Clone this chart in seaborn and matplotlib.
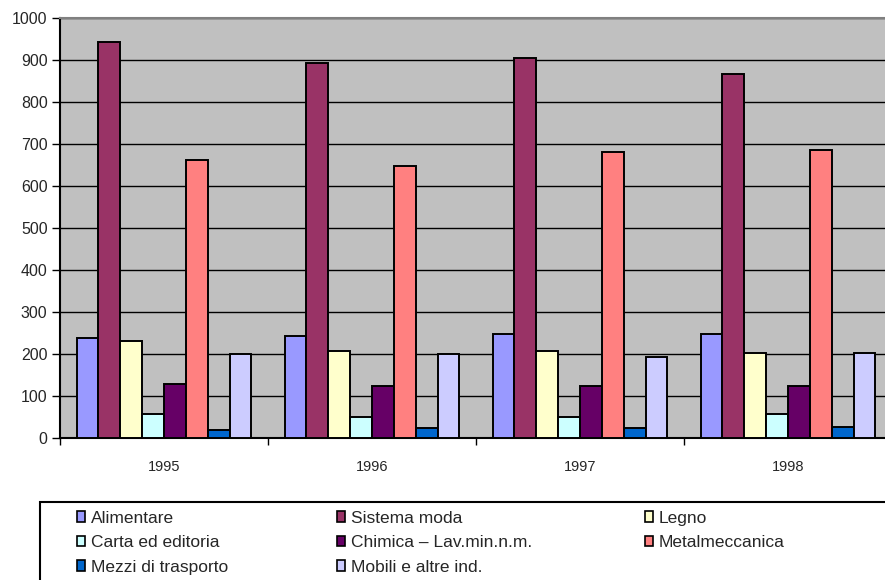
import matplotlib
matplotlib.use("Agg")
import matplotlib.pyplot as plt
import matplotlib.patches as mpatches
import seaborn as sns
import pandas as pd

# values
anni = ["1995", "1996", "1997", "1998"]
settori = ["Alimentare", "Sistema moda", "Legno", "Carta ed editoria",
           "Chimica \u2013 Lav.min.n.m.", "Metalmeccanica",
           "Mezzi di trasporto", "Mobili e altre ind."]
alimentare = [237, 242, 247, 247]
sistema_moda = [942, 894, 905, 866]
legno = [232, 208, 208, 203]
carta = [56, 51, 51, 56]
chimica = [128, 123, 123, 123]
metalmeccanica = [661, 648, 681, 686]
mezzi = [18, 23, 23, 27]
mobili = [199, 199, 194, 203]
colori = ["#9999FF", "#993366", "#FFFFCC", "#CCFFFF",
          "#660066", "#FF8080", "#0066CC", "#CCCCFF"]

serie = [alimentare, sistema_moda, legno, carta, chimica,
         metalmeccanica, mezzi, mobili]
righe = []
for nome, valori in zip(settori, serie):
    for anno, v in zip(anni, valori):
        righe.append({"anno": anno, "settore": nome, "valore": v})
df = pd.DataFrame(righe)

sns.set_theme(style="white")
plt.rcParams["font.family"] = ["Liberation Sans", "DejaVu Sans"]

fig = plt.figure(figsize=(8.85, 5.8), dpi=100)
# axes run past the right edge, as in the cropped reference
ax = fig.add_axes([60 / 885, 1 - 438 / 580, 832 / 885, 420 / 580])
ax.set_facecolor("#C0C0C0")

sns.barplot(data=df, x="anno", y="valore", hue="settore",
            hue_order=settori, palette=colori, saturation=1,
            width=0.84, gap=0, edgecolor="black", linewidth=1.4,
            ax=ax, legend=False, zorder=3)

ax.set_ylim(0, 1000)
ax.set_yticks(range(0, 1001, 100))
ax.set_xlim(-0.5, 3.5)
ax.yaxis.grid(True, color="black", linewidth=1, zorder=0)
ax.set_axisbelow(True)
ax.set_xlabel("")
ax.set_ylabel("")

ax.tick_params(axis="y", direction="out", length=6, width=1,
               color="black", labelsize=11.5, pad=3, left=True)
ax.tick_params(axis="x", which="major", length=0, labelsize=10.5, pad=16)
ax.set_xticks([-0.5, 0.5, 1.5, 2.5, 3.5], minor=True)
ax.tick_params(axis="x", which="minor", direction="out", length=5,
               width=1, color="black", bottom=True)

for s in ["left", "bottom"]:
    ax.spines[s].set_color("black")
    ax.spines[s].set_linewidth(1.5)
ax.spines["top"].set_color("#808080")
ax.spines["top"].set_linewidth(1.5)
ax.spines["right"].set_visible(False)

# legend box, also cut by the edges of the picture
box = mpatches.Rectangle((40 / 885, -0.1), 0.98, 1 - 502 / 580 + 0.1,
                         transform=fig.transFigure, facecolor="white",
                         edgecolor="black", linewidth=1.5)
fig.patches.append(box)

handles = [mpatches.Patch(facecolor=c, edgecolor="black", linewidth=1.2)
           for c in colori]
# three columns filled row by row, one legend per column
colonne_x = [68, 328, 636]
for i, x in enumerate(colonne_x):
    fig.legend(handles[i::3], settori[i::3], loc="upper left",
               bbox_to_anchor=(x / 885, 1 - 502 / 580), frameon=False,
               fontsize=12.5, handlelength=0.5, handleheight=0.55,
               handletextpad=0.3, labelspacing=0.55, borderpad=0)

fig.savefig("out.png", dpi=100)
